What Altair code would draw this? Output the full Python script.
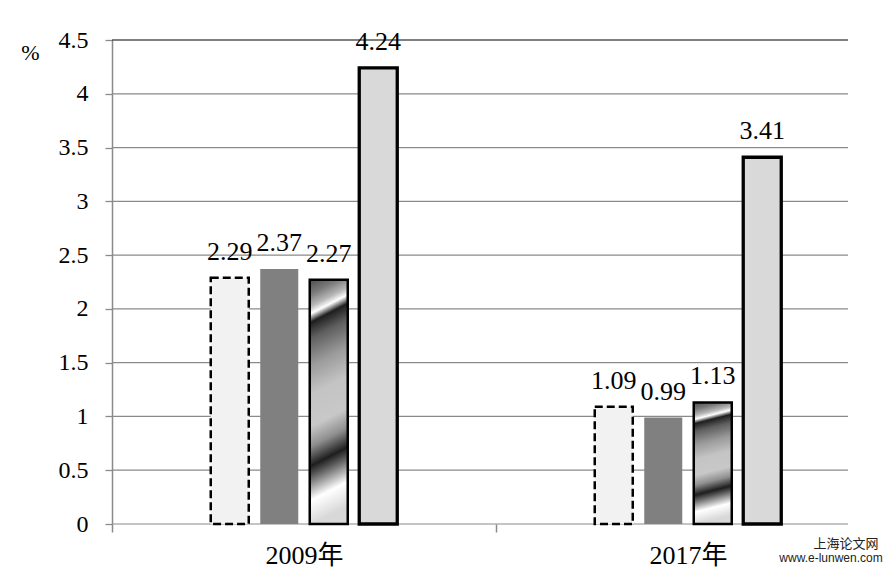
import altair as alt
import pandas as pd

years = ["2009年", "2017年"]
series = ["A", "B", "C", "D"]
values_a = [2.29, 1.09]
values_b = [2.37, 0.99]
values_c = [2.27, 1.13]
values_d = [4.24, 3.41]
y_ticks = [0, 0.5, 1, 1.5, 2, 2.5, 3, 3.5, 4, 4.5]
# empty slots on both sides of each group (no data), used only for spacing
offset_domain = ["_left"] + series + ["_right"]

rows = []
for s, vals in zip(series, [values_a, values_b, values_c, values_d]):
    for yr, v in zip(years, vals):
        rows.append({"year": yr, "series": s, "value": v})
df = pd.DataFrame(rows)
grid_df = pd.DataFrame({"value": y_ticks})

SERIF = "Times New Roman, Liberation Serif, DejaVu Serif, serif"
CJK_SERIF = "Times New Roman, Liberation Serif, Noto Sans CJK SC, serif"
GRAY = "#8a8a8a"

x_enc = alt.X(
    "year:N",
    scale=alt.Scale(domain=years, range=[0, 768], paddingInner=0, paddingOuter=0),
    axis=alt.Axis(
        title=None,
        domain=False,
        grid=False,
        tickBand="extent",
        tickSize=8,
        tickWidth=1.5,
        tickColor={"condition": {"test": "datum.value === '2017年'", "value": "transparent"}, "value": GRAY},
        labelFont=CJK_SERIF,
        labelFontSize=26,
        labelColor="black",
        labelPadding=10,
        labelAngle=0,
    ),
)
xo_enc = alt.XOffset("series:N", scale=alt.Scale(domain=offset_domain, paddingInner=0.232, paddingOuter=0.995))
y_enc = alt.Y(
    "value:Q",
    scale=alt.Scale(domain=[0, 4.5], nice=False, zero=True),
    axis=alt.Axis(
        values=y_ticks,
        format=".1~f",
        grid=False,
        domainColor=GRAY,
        domainWidth=1.5,
        tickColor=GRAY,
        tickSize=7,
        tickWidth=1.3,
        labelFont=SERIF,
        labelFontSize=24,
        labelColor="black",
        labelPadding=17,
        title="%",
        titleAngle=0,
        titleX=-82,
        titleY=12,
        titleAlign="center",
        titleBaseline="middle",
        titleFont=SERIF,
        titleFontSize=22,
        titleFontWeight="normal",
        titleColor="black",
    ),
)

grid = alt.Chart(grid_df).mark_rule(strokeWidth=1.2).encode(
    y=y_enc,
    x=alt.value(0),
    x2=alt.value(736),
    color=alt.condition(alt.datum.value == 4.5, alt.value("black"), alt.value(GRAY)),
)


def bars(name, **kw):
    return (
        alt.Chart(df)
        .transform_filter(alt.datum.series == name)
        .mark_bar(**kw)
        .encode(x=x_enc, xOffset=xo_enc, y=y_enc)
    )


stripe = {
    "gradient": "linear",
    "x1": 0, "y1": 0, "x2": 0.08, "y2": 1,
    "stops": [
        {"offset": 0.0, "color": "#4d4d4d"},
        {"offset": 0.06, "color": "#7a7a7a"},
        {"offset": 0.11, "color": "#b8b8b8"},
        {"offset": 0.14, "color": "#ffffff"},
        {"offset": 0.175, "color": "#1e1e1e"},
        {"offset": 0.24, "color": "#5e5e5e"},
        {"offset": 0.35, "color": "#9a9a9a"},
        {"offset": 0.47, "color": "#c4c4c4"},
        {"offset": 0.6, "color": "#c8c8c8"},
        {"offset": 0.68, "color": "#8f8f8f"},
        {"offset": 0.76, "color": "#1e1e1e"},
        {"offset": 0.8, "color": "#5a5a5a"},
        {"offset": 0.9, "color": "#ffffff"},
        {"offset": 1.0, "color": "#d8d8d8"},
    ],
}

b1 = bars("A", fill="#f2f2f2", stroke="black", strokeWidth=2.5, strokeDash=[8, 4])
b2 = bars("B", fill="#808080", strokeWidth=0)
b3 = bars("C", fill=stripe, stroke="black", strokeWidth=2.5)
b4 = bars("D", fill="#d9d9d9", stroke="black", strokeWidth=3.3)

labels = alt.Chart(df).mark_text(
    font=SERIF, fontSize=26, dy=-18, baseline="alphabetic", align="center", color="black"
).encode(x=x_enc, xOffset=xo_enc, y=y_enc, text=alt.Text("value:Q", format=".2f"))

wm1 = alt.Chart(pd.DataFrame({"t": ["上海论文网"]})).mark_text(
    font="Noto Sans CJK SC", fontSize=13, color="#222", align="center", baseline="middle"
).encode(x=alt.value(734), y=alt.value(504), text="t:N")
wm2 = alt.Chart(pd.DataFrame({"t": ["www.e-lunwen.com"]})).mark_text(
    font="Liberation Sans", fontSize=12, color="#222", align="center", baseline="middle"
).encode(x=alt.value(719), y=alt.value(518), text="t:N")

chart = (
    alt.layer(grid, b1, b2, b3, b4, labels, wm1, wm2)
    .properties(
        width=736,
        height=484,
        autosize=alt.AutoSizeParams(type="none"),
        padding={"left": 112, "top": 40, "right": 47, "bottom": 48},
        background="white",
    )
    .configure_view(strokeWidth=0)
)

chart.save("out.html", embed_options={"renderer": "svg", "actions": False})
